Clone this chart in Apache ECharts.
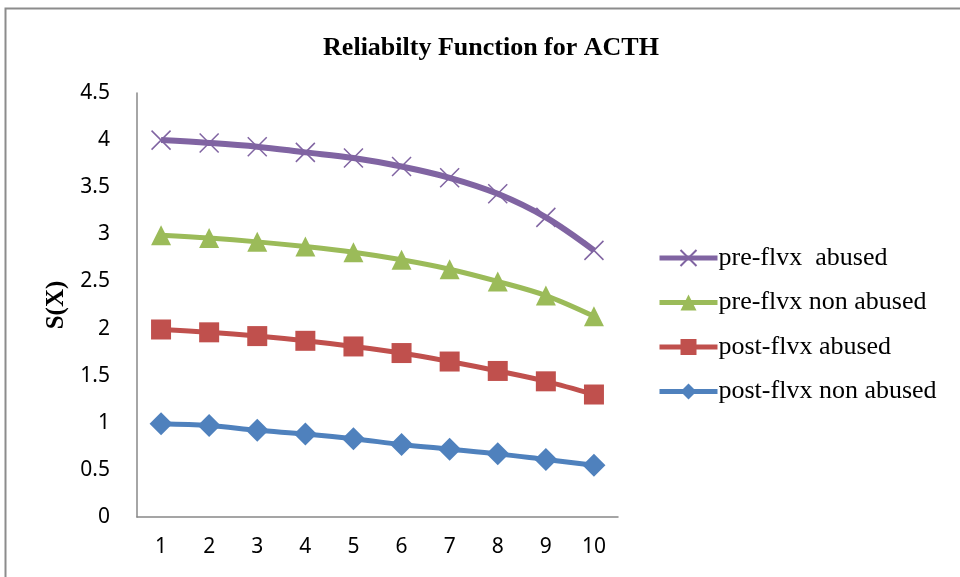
<!DOCTYPE html>
<html><head><meta charset="utf-8">
<script src="https://cdn.jsdelivr.net/npm/echarts@6/dist/echarts.min.js"></script>
<style>html,body{margin:0;padding:0;background:#fff}#c{width:960px;height:577px}</style>
</head><body><div id="c"></div>
<script>
const categories = ['1','2','3','4','5','6','7','8','9','10'];
const preAbused = [4.00, 3.97, 3.93, 3.87, 3.81, 3.72, 3.60, 3.43, 3.18, 2.83];
const preNonAbused = [2.99, 2.96, 2.92, 2.87, 2.81, 2.73, 2.63, 2.50, 2.35, 2.13];
const postAbused = [1.99, 1.96, 1.92, 1.87, 1.81, 1.74, 1.65, 1.55, 1.44, 1.30];
const postNonAbused = [0.99, 0.97, 0.92, 0.88, 0.83, 0.77, 0.72, 0.67, 0.61, 0.55];
const seriesNames = ['pre-flvx  abused', 'pre-flvx non abused', 'post-flvx abused', 'post-flvx non abused'];

const chart = echarts.init(document.getElementById('c'), null, {renderer: 'canvas'});
const mk = (name, data, color, symbol, size, extra) => Object.assign({
  name, type: 'line', data, smooth: 0.35, symbol, symbolSize: size,
  lineStyle: {color, width: 5}, itemStyle: {color},
  emphasis: {disabled: true}
}, extra || {});
chart.setOption({
  animation: false,
  backgroundColor: '#fff',
  graphic: [{type: 'polyline', shape: {points: [[5.5, 577], [5.5, 8.5], [960, 8.5]]}, style: {stroke: '#8c8c8c', lineWidth: 2, fill: null}}],
  title: {text: 'Reliabilty Function for ACTH', left: 486, textAlign: 'center', top: 30,
    textStyle: {fontFamily: 'Liberation Serif', fontWeight: 'bold', fontSize: 26, color: '#000'}},
  legend: {orient: 'vertical', left: 652, top: 240, itemWidth: 58, itemHeight: 20, itemGap: 18.5,
    data: seriesNames, lineStyle: {width: 5},
    textStyle: {fontFamily: 'Liberation Serif', fontSize: 26, color: '#000', padding: [0,0,0,-4]}},
  grid: {left: 137, right: 342, top: 93, bottom: 60, containLabel: false},
  xAxis: {type: 'category', data: categories, boundaryGap: true,
    axisLine: {lineStyle: {color: '#888', width: 1.5}}, axisTick: {show: false},
    axisLabel: {fontFamily: 'Noto Sans', fontSize: 21, color: '#000', margin: 20}},
  yAxis: {type: 'value', min: 0, max: 4.5, interval: 0.5, name: 'S(X)', nameLocation: 'middle', nameGap: 68,
    nameTextStyle: {fontFamily: 'Liberation Serif', fontWeight: 'bold', fontSize: 25, color: '#000'},
    axisLine: {show: true, lineStyle: {color: '#888', width: 1.5}}, axisTick: {show: false},
    splitLine: {show: false},
    axisLabel: {fontFamily: 'Noto Sans', fontSize: 21, color: '#000', margin: 27}},
  series: [
    mk(seriesNames[0], preAbused, '#8064A2', 'path://M0,0L10,10M10,0L0,10', 19,
       {lineStyle: {color: '#8064A2', width: 6}, itemStyle: {color: 'none', borderColor: '#8064A2', borderWidth: 1.5}}),
    mk(seriesNames[1], preNonAbused, '#9BBB59', 'triangle', 20),
    mk(seriesNames[2], postAbused, '#C0504D', 'rect', 20),
    mk(seriesNames[3], postNonAbused, '#4F81BD', 'diamond', 23)
  ]
});
</script></body></html>
